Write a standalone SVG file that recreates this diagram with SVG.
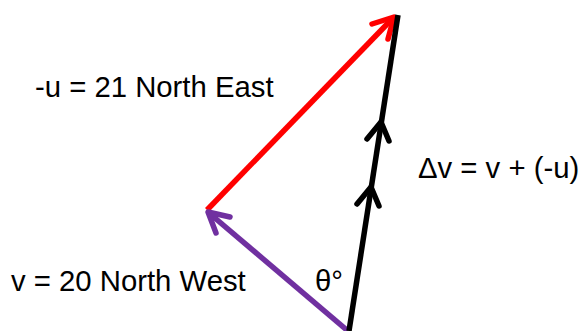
<svg xmlns="http://www.w3.org/2000/svg" width="582" height="331" viewBox="0 0 582 331">
<style>
.t{font-family:"Liberation Sans",Arial,sans-serif;font-size:29.3px;fill:#000}
.ln{fill:none;stroke-width:5.5;stroke-linecap:butt}
.hd{fill:none;stroke-width:5.5;stroke-linecap:round;stroke-linejoin:round}
</style>
<rect width="582" height="331" fill="#fff"/>
<g id="connectors">
<g id="minus-u">
<line class="ln" x1="207" y1="210" x2="393" y2="18" stroke="#FF0000"/>
<polyline class="hd" points="372,24 394,17 388,39" stroke="#FF0000"/>
</g>
<g id="v">
<line class="ln" x1="348" y1="331" x2="209" y2="213" stroke="#7030A0"/>
<polyline class="hd" points="230,217 208,212 216,233" stroke="#7030A0"/>
</g>
<g id="delta-v">
<line class="ln" x1="349" y1="331" x2="398" y2="15" stroke="#000"/>
<polyline class="hd" points="367,139 381,122 389,141" stroke="#000"/>
<polyline class="hd" points="357,204 371,187 379,206" stroke="#000"/>
</g>
</g>
<g id="label-minus-u"><text class="t" x="35" y="97">-u = 21 North East</text></g>
<g id="label-delta-v"><text class="t" x="418" y="178">Δv = v + (-u)</text></g>
<g id="label-v"><text class="t" x="11" y="291">v = 20 North West</text></g>
<g id="label-theta"><text class="t" x="315" y="291">θ°</text></g>
</svg>
